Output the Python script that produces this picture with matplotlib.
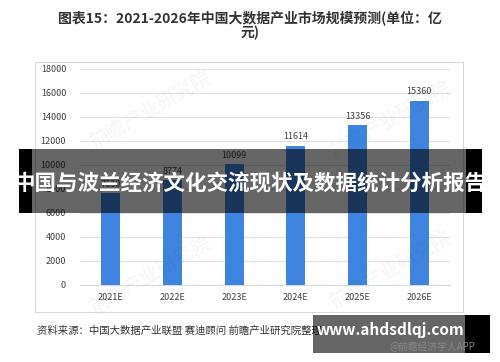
import matplotlib.pyplot as plt
from matplotlib.patches import Rectangle

plt.rcParams['font.family'] = ['Noto Sans CJK SC', 'DejaVu Sans']

# data
years = ["2021E", "2022E", "2023E", "2024E", "2025E", "2026E"]
values = [7630, 8774, 10099, 11614, 13356, 15360]
yticks = [0, 2000, 4000, 6000, 8000, 10000, 12000, 14000, 16000, 18000]

W, H = 500, 362
fig = plt.figure(figsize=(5, 3.62), dpi=100)

def fx(px):
    return px / W

def fy(py):
    return 1 - py / H

# outer frame of chart
fig.patches.append(Rectangle((fx(35), fy(312)), fx(428), 250 / H, transform=fig.transFigure,
                             fill=False, edgecolor='#d9d9d9', linewidth=0.8))

ax = fig.add_axes([fx(80), fy(285), fx(370), 216 / H])
ax.bar(range(len(years)), values, width=0.31, color='#3f85e0', zorder=3)
for i, v in enumerate(values):
    ax.text(i, v + 350, str(v), ha='center', va='bottom', fontsize=6.5, color='#404040')

ax.set_xlim(-0.5, 5.5)
ax.set_ylim(0, 18000)
ax.set_yticks(yticks)
ax.set_xticks(range(len(years)))
ax.set_xticklabels(years)
ax.tick_params(length=0, labelsize=6.5, labelcolor='#404040')
ax.tick_params(axis='y', pad=10)
ax.tick_params(axis='x', pad=6)
ax.grid(axis='y', color='#e0e0e0', linewidth=0.8, zorder=0)
for s in ['top', 'right', 'left']:
    ax.spines[s].set_visible(False)
ax.spines['bottom'].set_color('#d9d9d9')

# faint watermarks
for (x, y) in [(150, 110), (390, 120), (150, 275), (390, 270)]:
    fig.text(fx(x), fy(y), "前瞻产业研究院", fontsize=14, color='#000000', alpha=0.035,
             rotation=30, ha='center', va='center', fontweight='bold')

# title
fig.text(0.5, fy(25), "图表15：2021-2026年中国大数据产业市场规模预测(单位：亿\n元)",
         ha='center', va='center', fontsize=10, fontweight='bold', color='#333333',
         linespacing=1.0)

# source
fig.text(fx(37), fy(331), "资料来源：中国大数据产业联盟 赛迪顾问 前瞻产业研究院整理",
         ha='left', va='center', fontsize=7.5, color='#333333')

# overlay banner
fig.patches.append(Rectangle((fx(19), fy(213)), fx(463), 64 / H, transform=fig.transFigure,
                             facecolor='black', alpha=0.6, edgecolor='none', zorder=10))
fig.patches.append(Rectangle((fx(19), fy(213)), fx(13), 64 / H, transform=fig.transFigure,
                             facecolor='black', edgecolor='none', zorder=10))
fig.patches.append(Rectangle((fx(466), fy(213)), fx(16), 64 / H, transform=fig.transFigure,
                             facecolor='black', edgecolor='none', zorder=10))
fig.text(0.5, fy(184), "中国与波兰经济文化交流现状及数据统计分析报告", ha='center', va='center',
         fontsize=15.5, fontweight='bold', color='white', zorder=11)

# bottom-right site badge
fig.patches.append(Rectangle((fx(313), fy(353)), fx(152), 38 / H, transform=fig.transFigure,
                             facecolor='black', alpha=0.6, edgecolor='none', zorder=10))
fig.patches.append(Rectangle((fx(465), fy(353)), fx(25), 38 / H, transform=fig.transFigure,
                             facecolor='black', edgecolor='none', zorder=10))
fig.text(fx(390), fy(330), "www.ahdsdlqj.com", ha='center', va='center',
         fontsize=11, fontweight='bold', color='white', zorder=11)
fig.text(fx(475), fy(347), "@前瞻经济学人APP", ha='right', va='center',
         fontsize=7, color='#888888', zorder=11)

fig.savefig('out.png', dpi=100)
